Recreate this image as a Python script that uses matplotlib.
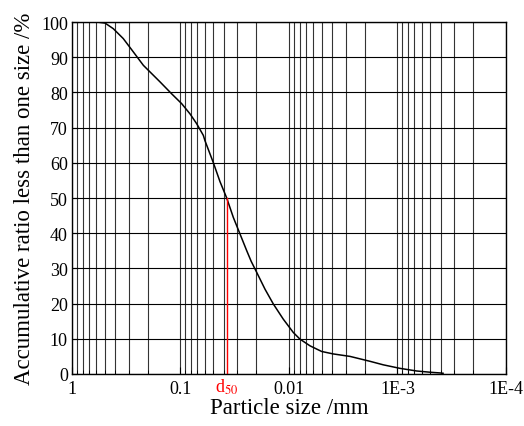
import matplotlib
matplotlib.use("Agg")
import matplotlib.pyplot as plt
from matplotlib.ticker import FixedLocator, LogLocator, NullFormatter

plt.rcParams['font.family'] = ['Liberation Serif', 'DejaVu Serif']
plt.rcParams['mathtext.fontset'] = 'stix'

# grading curve
size_mm = [0.60, 0.592, 0.496, 0.416, 0.337, 0.272, 0.220, 0.1545, 0.1206,
           0.0975, 0.0817, 0.0709, 0.0616, 0.0595, 0.0499, 0.0433, 0.0375,
           0.0326, 0.0283, 0.0245, 0.0223, 0.01986, 0.01664, 0.01395, 0.0113,
           0.00913, 0.00792, 0.0064, 0.0050, 0.00391, 0.00274, 0.00179,
           0.00135, 0.000948, 0.000665, 0.000501, 0.000406, 0.00038]
passing = [100.0, 100.0, 99.7, 98.1, 95.3, 91.5, 87.7, 83.0, 79.6,
           76.8, 73.9, 71.1, 67.8, 66.3, 60.1, 54.7, 50.0,
           44.5, 39.8, 35.0, 32.0, 28.9, 24.1, 19.9, 15.6,
           11.8, 9.9, 8.0, 6.4, 5.7, 5.0, 3.6,
           2.6, 1.6, 0.85, 0.5, 0.3, 0.2]
d50 = 0.0375
x_ticks = [1, 0.1, 0.01, 1e-3, 1e-4]
x_labels = ['1', '0.1', '0.01', '1E-3', '1E-4']
y_ticks = list(range(0, 101, 10))

fig = plt.figure(figsize=(5.24, 4.27), dpi=100)
ax = fig.add_axes([0.1374, 0.1218, 0.8282, 0.8243])

ax.set_xscale('log')
ax.set_xlim(1, 1e-4)
ax.set_ylim(0, 100)

ax.xaxis.set_major_locator(FixedLocator(x_ticks))
ax.set_xticklabels(x_labels)
ax.xaxis.set_minor_locator(LogLocator(base=10, subs=range(2, 10)))
ax.xaxis.set_minor_formatter(NullFormatter())
ax.set_yticks(y_ticks)

ax.grid(True, which='both', axis='x', color='0.2', linewidth=0.8)
ax.grid(True, which='major', axis='y', color='black', linewidth=0.8)
ax.set_axisbelow(True)

ax.plot(size_mm, passing, color='black', linewidth=1.1)
ax.plot([d50, d50], [0, 50], color='red', linewidth=1.0)

ax.tick_params(axis='both', which='both', direction='in', labelsize=13)
ax.tick_params(axis='x', which='major', length=5, pad=4)
ax.tick_params(axis='x', which='minor', length=3)
ax.tick_params(axis='y', length=4, pad=3)
for s in ax.spines.values():
    s.set_linewidth(1.0)

ax.annotate(r'd$_{50}$', xy=(d50, 0), xycoords=('data', 'axes fraction'),
            xytext=(0, -2), textcoords='offset points',
            color='red', fontsize=13, ha='center', va='top')

ax.set_xlabel('Particle size /mm', fontsize=16.5, labelpad=0)
ax.set_ylabel('Accumulative ratio less than one size /%', fontsize=16.5, labelpad=4)

fig.savefig('out.png', dpi=100)
